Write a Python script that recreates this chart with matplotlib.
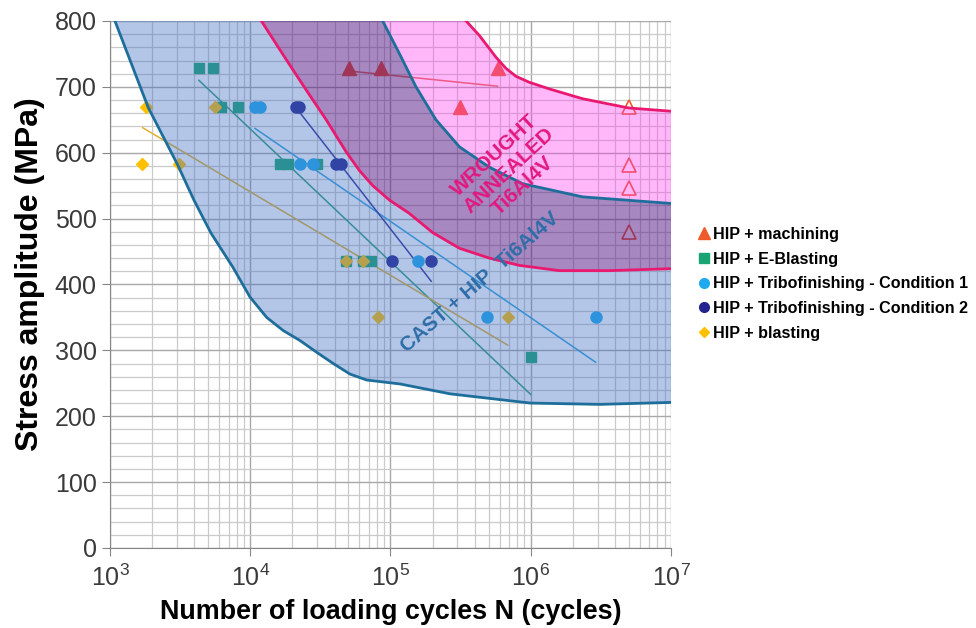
import numpy as np
import matplotlib
matplotlib.use("Agg")
import matplotlib.pyplot as plt
from matplotlib.lines import Line2D

plt.rcParams['font.family'] = ['Liberation Sans', 'DejaVu Sans']
plt.rcParams['mathtext.fontset'] = 'custom'
plt.rcParams['mathtext.rm'] = 'Liberation Sans'

# ---- test data (cycles, stress amplitude MPa) ----
mach_n = [5.1e4, 8.6e4, 3.15e5, 5.8e5]
mach_s = [728, 728, 670, 728]
mach_runout_n = [5e6, 5e6, 5e6, 5e6]
mach_runout_s = [670, 582, 547, 480]

eblast_n = [4.3e3, 5.45e3, 6.15e3, 8.2e3, 1.62e4, 1.85e4, 3.0e4, 4.8e4, 6.4e4, 7.3e4, 1e6]
eblast_s = [728, 728, 670, 670, 583, 583, 583, 436, 436, 436, 290]

tribo1_n = [1.08e4, 1.18e4, 2.27e4, 2.8e4, 1.57e5, 4.85e5, 2.92e6]
tribo1_s = [670, 670, 583, 583, 436, 350, 350]

tribo2_n = [2.13e4, 2.22e4, 4.06e4, 4.46e4, 1.02e5, 1.94e5]
tribo2_s = [670, 670, 583, 583, 436, 436]

blast_n = [1.8e3, 5.6e3, 1.7e3, 3.1e3, 4.8e4, 6.35e4, 8.1e4, 6.85e5]
blast_s = [670, 670, 583, 583, 436, 436, 350, 350]

# trend lines (start / end)
mach_trend_n = [5.1e4, 5.8e5]
mach_trend_s = [724, 701]
eblast_trend_n = [4.3e3, 1e6]
eblast_trend_s = [710, 233]
tribo1_trend_n = [1.08e4, 2.9e6]
tribo1_trend_s = [637, 282]
tribo2_trend_n = [2.2e4, 1.95e5]
tribo2_trend_s = [664, 405]
blast_trend_n = [1.71e3, 6.84e5]
blast_trend_s = [638, 308]

# ---- scatter bands ----
# cast + HIP band, lower edge
cast_lo_n = [1.085e3, 1.87e3, 3.03e3, 3.97e3, 5.25e3, 7.53e3, 9.95e3, 1.31e4, 1.72e4,
             2.26e4, 2.98e4, 3.91e4, 5.14e4, 6.76e4, 1.17e5, 2.66e5, 9.9e5, 3.12e6, 1e7]
cast_lo_s = [800, 669, 582, 528, 478, 426, 381, 350, 330,
             315, 297, 280, 264, 255, 249, 234, 220, 218, 221]
# cast + HIP band, upper edge
cast_hi_n = [8.8e4, 1.16e5, 1.52e5, 2.11e5, 3.1e5, 5.07e5, 8.75e5, 2.34e6, 1e7]
cast_hi_s = [800, 750, 700, 650, 609, 578, 553, 533, 523]
# wrought annealed band, lower edge
wr_lo_n = [1.2e4, 1.81e4, 2.51e4, 3.48e4, 4.84e4, 6.0e4, 7.48e4, 9.84e4, 1.36e5, 1.99e5,
           3.1e5, 5.07e5, 8.28e5, 1.6e6, 3.62e6, 1e7]
wr_lo_s = [800, 741, 695, 650, 601, 573, 550, 528, 508, 479, 455, 440, 429, 421, 421, 424]
# wrought annealed band, upper edge
wr_hi_n = [3.46e5, 4.3e5, 5.65e5, 6.66e5, 7.85e5, 9.75e5, 1.35e6, 2.34e6, 4.97e6, 1e7]
wr_hi_s = [800, 778, 745, 728, 716, 707, 697, 682, 668, 663]

c_mach = '#ED5B2D'
c_eblast = '#1AA474'
c_tribo1 = '#1FA9EE'
c_tribo2 = '#25248F'
c_blast = '#FFC000'

fig = plt.figure(figsize=(9.76, 6.28), dpi=100)
ax = fig.add_axes([0.1127, 0.1274, 0.5748, 0.8392])
ax.set_xscale('log')
ax.set_xlim(1e3, 1e7)
ax.set_ylim(0, 800)

# points and trend lines sit under the translucent bands
ax.plot(mach_trend_n, mach_trend_s, color='#E07050', lw=1.1, zorder=2)
ax.plot(eblast_trend_n, eblast_trend_s, color='#2E9E80', lw=1.1, zorder=2)
ax.plot(tribo1_trend_n, tribo1_trend_s, color='#2FA3E0', lw=1.1, zorder=2)
ax.plot(tribo2_trend_n, tribo2_trend_s, color='#33339F', lw=1.1, zorder=2)
ax.plot(blast_trend_n, blast_trend_s, color='#E0B030', lw=1.1, zorder=2)

ax.plot(mach_n, mach_s, '^', color=c_mach, ms=10, ls='none', zorder=2)
ax.plot(mach_runout_n, mach_runout_s, '^', mfc='white', mec=c_mach, mew=1.2, ms=10,
        ls='none', zorder=2)
ax.plot(eblast_n, eblast_s, 's', color=c_eblast, ms=7.5, ls='none', zorder=2)
ax.plot(tribo1_n, tribo1_s, 'o', color=c_tribo1, ms=8, ls='none', zorder=2)
ax.plot(tribo2_n, tribo2_s, 'o', color=c_tribo2, ms=8, ls='none', zorder=2)
ax.plot(blast_n, blast_s, 'D', color=c_blast, ms=6.5, ls='none', zorder=2)

# bands: cast only, overlap, wrought only
ax.fill(cast_lo_n + wr_lo_n[::-1], cast_lo_s + wr_lo_s[::-1],
        color='#4472C4', alpha=0.4, lw=0, zorder=3)
ax.fill(wr_lo_n + cast_hi_n[::-1], wr_lo_s + cast_hi_s[::-1],
        color='#531383', alpha=0.5, lw=0, zorder=3)
ax.fill(cast_hi_n + wr_hi_n[::-1], cast_hi_s + wr_hi_s[::-1],
        color='#FF33EE', alpha=0.35, lw=0, zorder=3)

ax.plot(cast_lo_n, cast_lo_s, color='#1D6E9A', lw=2, zorder=4)
ax.plot(cast_hi_n, cast_hi_s, color='#1D6E9A', lw=2, zorder=4)
ax.plot(wr_lo_n, wr_lo_s, color='#E8196F', lw=2, zorder=4)
ax.plot(wr_hi_n, wr_hi_s, color='#E8196F', lw=2, zorder=4)

ax.text(6.95e5, 573, 'WROUGHT\nANNEALED\nTi6Al4V', color='#E2187F', fontsize=15,
        fontweight='bold', rotation=43, ha='center', va='center', ma='center',
        linespacing=1.1, rotation_mode='anchor', zorder=5)
ax.text(4.35e5, 404, 'CAST + HIP  Ti6Al4V', color='#2D6DA8', fontsize=15,
        fontweight='bold', rotation=41, ha='center', va='center',
        rotation_mode='anchor', zorder=5)

# grid
ax.set_yticks(np.arange(0, 801, 100))
ax.set_yticks(np.arange(0, 801, 20), minor=True)
ax.grid(True, which='major', color='#A8A8A8', lw=1.0, zorder=0)
ax.grid(True, which='minor', color='#CACACA', lw=0.9, zorder=0)
ax.set_axisbelow(True)
for s in ['top', 'right']:
    ax.spines[s].set_visible(False)
for s in ['left', 'bottom']:
    ax.spines[s].set_color('#868686')
ax.tick_params(which='major', direction='out', length=6, color='#868686',
               labelsize=18, labelcolor='#3A3A3A')
ax.tick_params(which='minor', length=0)
ax.tick_params(axis='x', pad=6)

ax.set_xlabel('Number of loading cycles N (cycles)', fontsize=19.4, fontweight='bold',
              labelpad=6)
ax.set_ylabel('Stress amplitude (MPa)', fontsize=23, fontweight='bold')
ax.yaxis.set_label_coords(-0.116, 0.52)

handles = [
    Line2D([], [], marker='^', color=c_mach, ls='none', ms=8),
    Line2D([], [], marker='s', color=c_eblast, ls='none', ms=7),
    Line2D([], [], marker='o', color=c_tribo1, ls='none', ms=7),
    Line2D([], [], marker='o', color=c_tribo2, ls='none', ms=7),
    Line2D([], [], marker='D', color=c_blast, ls='none', ms=5),
]
labels = ['HIP + machining', 'HIP + E-Blasting', 'HIP + Tribofinishing - Condition 1',
          'HIP + Tribofinishing - Condition 2', 'HIP + blasting']
fig.legend(handles, labels, loc='center left', bbox_to_anchor=(0.705, 0.548),
           frameon=False, prop={'weight': 'bold', 'size': 11.6},
           handletextpad=0.05, handlelength=1.0, labelspacing=0.6, borderpad=0)

fig.savefig('out.png', dpi=100)
